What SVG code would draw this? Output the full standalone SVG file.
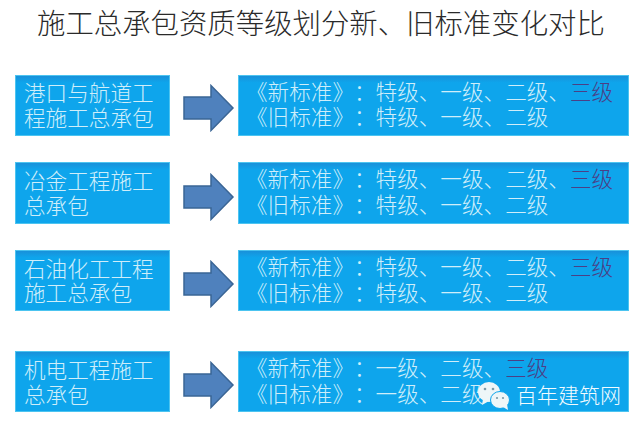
<svg xmlns="http://www.w3.org/2000/svg" width="640" height="428" viewBox="0 0 640 428">
<style>
text{font-family:"Noto Sans CJK SC","Noto Sans CJK JP",sans-serif;font-weight:300;text-spacing-trim:space-all}
.t{font-size:28.4px;fill:#2a2a2a}
.w{font-size:21.6px;fill:#cfeefa}
.r{fill:#4b3f86}
.b{fill:url(#boxfill);stroke:#4cc4f0;stroke-width:1}
.a{fill:#4f81bd;stroke:#3a6595;stroke-width:1.5}
</style>
<defs>
<linearGradient id="boxfill" x1="0" y1="0" x2="0" y2="1"><stop offset="0" stop-color="#1a8fd8"/><stop offset="0.12" stop-color="#0ea5ec"/><stop offset="1" stop-color="#0ea5ec"/></linearGradient>
<path id="arrow" d="M0-11H27V-22.500L49 0 27 22.500V11H0Z"/>
</defs>
<rect width="640" height="428" fill="#fff"/>
<text class="t" x="37" y="34">施工总承包资质等级划分新、旧标准变化对比</text>
<g id="connectors">
<use href="#arrow" class="a" x="184" y="108"/>
<use href="#arrow" class="a" x="184" y="197"/>
<use href="#arrow" class="a" x="184" y="284"/>
<use href="#arrow" class="a" x="184" y="385"/>
</g>
<g id="src1"><rect class="b" x="15.500" y="75.500" width="154" height="60"/><text class="w" x="24" y="101">港口与航道工</text><text class="w" x="24" y="126">程施工总承包</text></g>
<g id="dst1"><rect class="b" x="238.500" y="75.500" width="390" height="60"/><text class="w" x="246" y="100">《新标准》：特级、一级、二级、<tspan class="r">三级</tspan></text><text class="w" x="246" y="125">《旧标准》：特级、一级、二级</text></g>
<g id="src2"><rect class="b" x="15.500" y="162.500" width="154" height="61"/><text class="w" x="24" y="189">冶金工程施工</text><text class="w" x="24" y="214">总承包</text></g>
<g id="dst2"><rect class="b" x="238.500" y="162.500" width="390" height="61"/><text class="w" x="246" y="187">《新标准》：特级、一级、二级、<tspan class="r">三级</tspan></text><text class="w" x="246" y="213">《旧标准》：特级、一级、二级</text></g>
<g id="src3"><rect class="b" x="15.500" y="250.500" width="154" height="60"/><text class="w" x="24" y="277">石油化工工程</text><text class="w" x="24" y="301">施工总承包</text></g>
<g id="dst3"><rect class="b" x="238.500" y="250.500" width="390" height="60"/><text class="w" x="246" y="275">《新标准》：特级、一级、二级、<tspan class="r">三级</tspan></text><text class="w" x="246" y="301">《旧标准》：特级、一级、二级</text></g>
<g id="src4"><rect class="b" x="15.500" y="351.500" width="154" height="60"/><text class="w" x="24" y="378">机电工程施工</text><text class="w" x="24" y="403">总承包</text></g>
<g id="dst4"><rect class="b" x="238.500" y="351.500" width="390" height="60"/><text class="w" x="246" y="376">《新标准》：一级、二级、<tspan class="r">三级</tspan></text><text class="w" x="246" y="402">《旧标准》：一级、二级</text></g>
<g id="watermark">
<ellipse cx="489" cy="392" rx="11" ry="10" fill="#eef6f8"/><path d="M483 399l-1 6 7-4z" fill="#eef6f8"/>
<ellipse cx="500" cy="400" rx="9.500" ry="8.500" fill="#eef6f8" stroke="#0ea5ec"/><path d="M503 407l5 3-1-6z" fill="#eef6f8"/>
<circle cx="485" cy="389" r="1.300" fill="#7a9aa8"/><circle cx="493" cy="389" r="1.300" fill="#7a9aa8"/><circle cx="497" cy="398" r="1.100" fill="#7a9aa8"/><circle cx="503" cy="398" r="1.100" fill="#7a9aa8"/>
<text x="516" y="403" font-size="21" fill="#f2fbff">百年建筑网</text>
</g>
</svg>
